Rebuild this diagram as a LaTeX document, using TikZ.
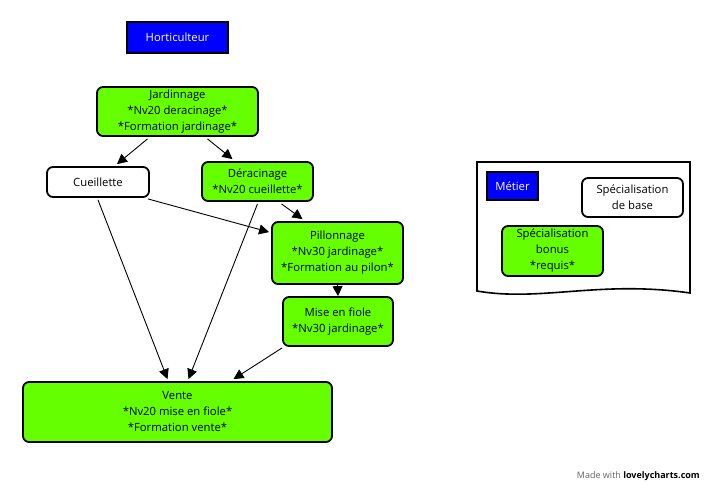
\documentclass[tikz,border=0pt]{standalone}
\usepackage{fontspec}
\setmainfont{Open Sans}
\usetikzlibrary{arrows.meta,calc}
\definecolor{lgreen}{HTML}{66FF00}
\definecolor{pblue}{HTML}{0000FF}
\begin{document}
\begin{tikzpicture}[x=1pt,y=-1pt,
  box/.style={draw=black,line width=1.8pt,rounded corners=6pt,align=center,
    font=\fontsize{11.3}{16}\selectfont,inner sep=0pt},
  gbox/.style={box,fill=lgreen},
  wbox/.style={box,fill=white},
  bbox/.style={draw=black,line width=1.8pt,fill=pblue,text=white,
    font=\fontsize{11.3}{16}\selectfont,inner sep=0pt},
  arr/.style={draw=black,line width=0.9pt,-{Triangle[length=10pt,width=10pt]}}]
\useasboundingbox (0,0) rectangle (710,484);
\fill[white] (0,0) rectangle (710,484);

\node[bbox,minimum width=101pt,minimum height=31pt] (hort) at (177.5,37.5) {Horticulteur};
\node[gbox,minimum width=161pt,minimum height=49pt] (jard) at (177.5,111.5) {Jardinnage\\*Nv20 deracinage*\\*Formation jardinage*};
\node[wbox,minimum width=102pt,minimum height=30pt] (cueil) at (98,182) {Cueillette};
\node[gbox,minimum width=111pt,minimum height=39pt] (derac) at (257.5,181.5) {Déracinage\\*Nv20 cueillette*};
\node[gbox,minimum width=131pt,minimum height=62pt] (pill) at (337.5,253) {Pillonnage\\*Nv30 jardinage*\\*Formation au pilon*};
\node[gbox,minimum width=110pt,minimum height=49pt] (fiole) at (338,321.5) {Mise en fiole\\*Nv30 jardinage*};
\node[gbox,minimum width=309pt,minimum height=60pt] (vente) at (177.5,412) {Vente\\*Nv20 mise en fiole*\\*Formation vente*};

% connectors
\draw[arr] ($(jard.south)+(-30,2)$) -- ($(cueil.north)+(19,-2)$);
\draw[arr] ($(jard.south)+(30,2)$) -- ($(derac.north)+(-25,-2)$);
\draw[arr] ($(cueil.south east)+(-2,1)$) -- ($(pill.north west)+(-2,11)$);
\draw[arr] ($(derac.south)+(24,2)$) -- ($(pill.north)+(-35,-2)$);
\draw[arr] ($(cueil.south)+(0,2)$) -- ($(vente.north)+(-10,-2)$);
\draw[arr] ($(derac.south)+(0,2)$) -- ($(vente.north)+(11,-2)$);
\draw[arr] (pill.south) -- (fiole.north);
\draw[arr] ($(fiole.south west)+(0,1)$) -- ($(vente.north)+(56,-2)$);

% legend
\draw[line width=1.6pt,fill=white] (477,162) -- (690,162) -- (690,293)
  .. controls (600,280) and (540,302) .. (477,291) -- cycle;
\node[bbox,minimum width=51pt,minimum height=28pt] (metier) at (512.5,186) {Métier};
\node[wbox,minimum width=101pt,minimum height=39pt] (base) at (632.5,197.5) {Spécialisation\\de base};
\node[gbox,minimum width=101pt,minimum height=50pt] (bonus) at (552.5,251) {Spécialisation\\bonus\\*requis*};

\node[anchor=east,inner sep=0pt,font=\fontsize{9}{11}\selectfont] (credit) at (700,476)
  {\textcolor{black!60}{Made with} \textbf{lovelycharts.com}};
\end{tikzpicture}
\end{document}
